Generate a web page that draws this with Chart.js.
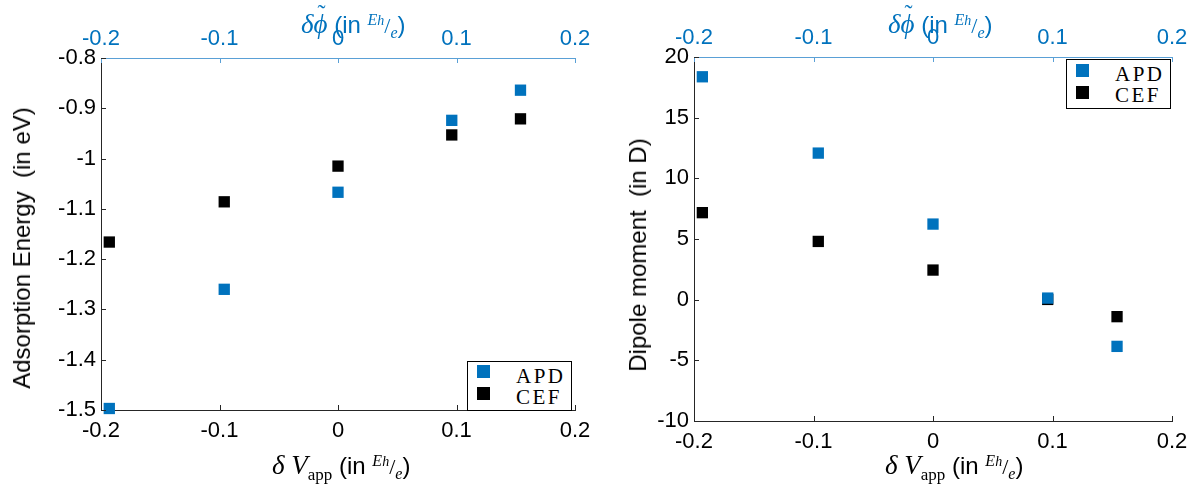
<!DOCTYPE html>
<html lang="en">
<head>
<meta charset="utf-8">
<script src="https://cdn.jsdelivr.net/npm/chart.js"></script>
<style>
    body { margin: 0; background: #fff; }
    .wrap { position: relative; width: 1199px; height: 487px; font-family: 'Liberation Sans', Arial, sans-serif; }
    .wrap canvas { position: absolute; top: 0; }
    .lbl { position: absolute; white-space: nowrap; font-size: 24px; line-height: 30px; color: #000; }
    .blue { color: #0072BD; }
    .m { font-family: 'Liberation Serif', 'DejaVu Serif', serif; font-style: italic; }
    .big { font-size: 27px; }
    .phi { position: relative; display: inline-block; }
    .tilde { position: absolute; left: 4px; top: -11px; font-style: normal; font-size: 24px; }
    .up { font-family: 'Liberation Serif', serif; font-size: 17px; position: relative; top: 6px; }
    .sup { font-size: 16px; position: relative; top: -8px; }
    .sub { font-size: 16px; position: relative; top: 5px; }
    .slash { font-family: 'Liberation Serif', serif; font-size: 22px; }
    .ytitle { transform: translate(-50%, -50%) rotate(-90deg); }
    .legend { position: absolute; width: 105px; height: 50px; border: 1.5px solid #000; background: #fff; box-sizing: border-box; }
    .legend .sw { position: absolute; left: 9px; width: 13px; height: 13px; }
    .legend .tx { position: absolute; left: 48px; font-family: 'Liberation Serif', 'Courier New', serif; font-size: 21px; line-height: 24px; letter-spacing: 2.5px; }
</style>
</head>
<body>
<div class="wrap">
    <canvas id="energyChart" width="600" height="487" style="left:0"></canvas>
    <canvas id="dipoleChart" width="599" height="487" style="left:600px"></canvas>

    <!-- axis titles -->
    <div class="lbl blue" style="left:301px; top:9px;"><span class="m big">δ<span class="phi">ϕ<span class="tilde">˜</span></span></span> (in <span class="m sup">E<span style="font-size:14px">h</span></span><span class="slash">/</span><span class="m sub">e</span>)</div>
    <div class="lbl blue" style="left:888px; top:9px;"><span class="m big">δ<span class="phi">ϕ<span class="tilde">˜</span></span></span> (in <span class="m sup">E<span style="font-size:14px">h</span></span><span class="slash">/</span><span class="m sub">e</span>)</div>

    <div class="lbl" style="left:272px; top:450px;"><span class="m big">δ V</span><span class="up">app</span> (in <span class="m sup">E<span style="font-size:14px">h</span></span><span class="slash">/</span><span class="m sub">e</span>)</div>
    <div class="lbl" style="left:885px; top:450px;"><span class="m big">δ V</span><span class="up">app</span> (in <span class="m sup">E<span style="font-size:14px">h</span></span><span class="slash">/</span><span class="m sub">e</span>)</div>

    <div class="lbl ytitle" style="left:22px; top:248px;">Adsorption Energy&nbsp; (in eV)</div>
    <div class="lbl ytitle" style="left:638px; top:255px;">Dipole moment&nbsp; (in D)</div>

    <!-- legends -->
    <div class="legend" style="left:467px; top:361px;">
        <div class="sw" style="top:3px; background:#0072BD"></div>
        <div class="tx" style="top:2px;">APD</div>
        <div class="sw" style="top:25px; background:#000"></div>
        <div class="tx" style="top:23px;">CEF</div>
    </div>
    <div class="legend" style="left:1066px; top:59px;">
        <div class="sw" style="top:4px; background:#0072BD"></div>
        <div class="tx" style="top:2px;">APD</div>
        <div class="sw" style="top:26px; background:#000"></div>
        <div class="tx" style="top:23px;">CEF</div>
    </div>
</div>

<script>
    // applied potential shift (same for both panels)
    const xShift = [-0.193, -0.096, 0, 0.096, 0.154];

    // adsorption energy, eV
    const energyAPD = [-1.497, -1.260, -1.067, -0.924, -0.864];
    const energyCEF = [-1.166, -1.086, -1.015, -0.953, -0.921];

    // dipole moment, D
    const dipoleAPD = [18.37, 12.08, 6.23, 0.13, -3.85];
    const dipoleCEF = [7.17, 4.80, 2.44, 0.02, -1.40];

    const xTicks = [-0.2, -0.1, 0, 0.1, 0.2];

    const blue = '#0072BD';
    const axisGray = '#262626';
    const topLine = '#5aa0d6';

    const fmt = v => String(Number(v.toFixed(3)));

    // MATLAB style ticks pointing into the plot box
    const inwardTicks = {
        id: 'inwardTicks',
        afterDraw(chart) {
            const { ctx, chartArea: a } = chart;
            ctx.save();
            ctx.lineWidth = 1;
            for (const s of Object.values(chart.scales)) {
                ctx.strokeStyle = s.options.border.color;
                for (const t of s.ticks) {
                    const p = Math.round(s.getPixelForValue(t.value)) + 0.5;
                    ctx.beginPath();
                    if (s.position === 'left') { ctx.moveTo(a.left, p); ctx.lineTo(a.left + 5, p); }
                    else if (s.position === 'bottom') { ctx.moveTo(p, a.bottom); ctx.lineTo(p, a.bottom - 5); }
                    else { ctx.moveTo(p, a.top); ctx.lineTo(p, a.top + 5); }
                    ctx.stroke();
                }
            }
            ctx.restore();
        }
    };

    function points(ys) {
        return xShift.map((x, i) => ({ x: x, y: ys[i] }));
    }

    function makeChart(id, apd, cef, yMin, yMax, yStep, box) {
        const tickFont = { family: "'Liberation Sans', Arial, sans-serif", size: 22 };
        new Chart(document.getElementById(id), {
            type: 'scatter',
            data: {
                datasets: [
                    { label: 'APD', data: points(apd), backgroundColor: blue, borderWidth: 0,
                      pointStyle: 'rect', pointRadius: 8, clip: false },
                    { label: 'CEF', data: points(cef), backgroundColor: '#000', borderWidth: 0,
                      pointStyle: 'rect', pointRadius: 8, clip: false }
                ]
            },
            options: {
                responsive: false,
                animation: false,
                events: [],
                layout: { padding: { left: 0, right: box.padRight, top: 0, bottom: 0 } },
                plugins: { legend: { display: false }, tooltip: { enabled: false } },
                scales: {
                    x: {
                        type: 'linear', position: 'bottom', min: -0.2, max: 0.2,
                        afterBuildTicks: s => { s.ticks = xTicks.map(v => ({ value: v })); },
                        afterFit: s => { s.height = box.bottom; },
                        grid: { display: false, drawTicks: false },
                        border: { display: true, color: axisGray, width: 1 },
                        ticks: { color: '#000', font: tickFont, padding: 8, maxRotation: 0, callback: fmt }
                    },
                    x2: {
                        type: 'linear', position: 'top', min: -0.2, max: 0.2,
                        afterBuildTicks: s => { s.ticks = xTicks.map(v => ({ value: v })); },
                        afterFit: s => { s.height = box.top; },
                        grid: { display: false, drawTicks: false },
                        border: { display: true, color: topLine, width: 1 },
                        ticks: { color: blue, font: tickFont, padding: 6, maxRotation: 0, callback: fmt }
                    },
                    y: {
                        type: 'linear', position: 'left', min: yMin, max: yMax,
                        ticks: { stepSize: yStep, color: '#000', font: tickFont, padding: 5, callback: fmt },
                        afterFit: s => { s.width = box.left; },
                        grid: { display: false, drawTicks: false },
                        border: { display: true, color: axisGray, width: 1 }
                    }
                }
            },
            plugins: [inwardTicks]
        });
    }

    makeChart('energyChart', energyAPD, energyCEF, -1.5, -0.8, 0.1,
        { left: 101, top: 58, bottom: 77, padRight: 25 });
    makeChart('dipoleChart', dipoleAPD, dipoleCEF, -10, 20, 5,
        { left: 94, top: 57, bottom: 66, padRight: 27 });
</script>
</body>
</html>
